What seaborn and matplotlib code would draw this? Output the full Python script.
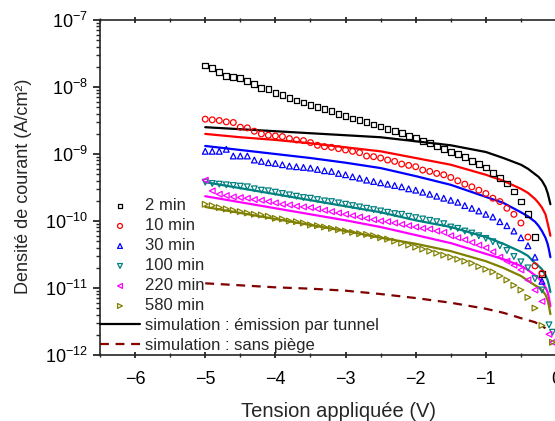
import numpy as np
import matplotlib
matplotlib.use("Agg")
import matplotlib.pyplot as plt
import seaborn as sns
from matplotlib.ticker import LogLocator, MultipleLocator, NullFormatter

nan = np.nan

# applied voltage of the measured points (V)
voltage = [-5.0, -4.9, -4.8, -4.7, -4.6, -4.5, -4.4, -4.3, -4.2, -4.1,
           -4.0, -3.9, -3.8, -3.7, -3.6, -3.5, -3.4, -3.3, -3.2, -3.1,
           -3.0, -2.9, -2.8, -2.7, -2.6, -2.5, -2.4, -2.3, -2.2, -2.1,
           -2.0, -1.9, -1.8, -1.7, -1.6, -1.5, -1.4, -1.3, -1.2, -1.1,
           -1.0, -0.9, -0.8, -0.7, -0.6, -0.5, -0.4, -0.3, -0.2, -0.1, -0.05]

# log10 of measured current density (A/cm2)
log_2min = [-7.68, -7.72, -7.78, -7.84, -7.85, -7.87, -7.91, -7.96, -8.02, -8.03,
            -8.09, -8.12, -8.16, -8.20, -8.23, -8.27, -8.30, -8.33, -8.36, -8.40,
            -8.43, -8.47, -8.49, -8.52, -8.56, -8.59, -8.63, -8.66, -8.69, -8.73,
            -8.76, -8.81, -8.84, -8.88, -8.92, -8.97, -9.00, -9.05, -9.10, -9.15,
            -9.20, -9.28, -9.36, -9.44, -9.56, -9.71, -9.90, -10.24, -10.79, nan, nan]
log_10min = [-8.48, -8.49, -8.50, -8.52, -8.53, -8.60, -8.61, -8.66, -8.70, -8.72,
             -8.73, -8.74, -8.77, -8.79, -8.80, -8.83, -8.87, -8.89, -8.90, -8.92,
             -8.94, -8.96, -8.98, -9.03, -9.04, -9.06, -9.09, -9.11, -9.15, -9.17,
             -9.19, -9.24, -9.26, -9.29, -9.31, -9.35, -9.40, -9.45, -9.49, -9.54,
             -9.59, -9.66, -9.71, -9.81, -9.90, -10.03, -10.24, -10.67, -10.78, nan, nan]
log_30min = [-8.96, -8.96, -8.96, -8.93, -9.03, -9.03, -9.03, -9.09, -9.11, -9.13,
             -9.14, -9.16, -9.18, -9.19, -9.20, -9.21, -9.23, -9.25, -9.26, -9.29,
             -9.31, -9.34, -9.36, -9.39, -9.41, -9.43, -9.45, -9.47, -9.49, -9.52,
             -9.54, -9.57, -9.60, -9.63, -9.66, -9.69, -9.72, -9.77, -9.81, -9.85,
             -9.90, -9.94, -10.01, -10.07, -10.15, -10.25, -10.37, -10.54, -10.90, nan, nan]
log_100min = [-9.42, -9.44, -9.45, -9.46, -9.47, -9.48, -9.49, -9.52, -9.54, -9.55,
              -9.57, -9.59, -9.61, -9.63, -9.65, -9.66, -9.68, -9.70, -9.71, -9.73,
              -9.75, -9.77, -9.79, -9.81, -9.83, -9.85, -9.87, -9.89, -9.90, -9.93,
              -9.95, -9.97, -9.99, -10.01, -10.04, -10.09, -10.11, -10.15, -10.18, -10.22,
              -10.26, -10.31, -10.37, -10.44, -10.53, -10.61, -10.70, -10.86, -11.03, -11.55, -11.66]
log_220min = [-9.39, -9.55, -9.60, -9.62, -9.64, -9.65, -9.66, -9.68, -9.69, -9.71,
              -9.73, -9.75, -9.76, -9.78, -9.79, -9.80, -9.82, -9.84, -9.86, -9.88,
              -9.90, -9.92, -9.94, -9.96, -9.98, -10.00, -10.01, -10.03, -10.05, -10.07,
              -10.09, -10.11, -10.12, -10.15, -10.17, -10.22, -10.25, -10.28, -10.32, -10.36,
              -10.40, -10.46, -10.54, -10.60, -10.66, -10.73, -10.88, -11.03, -11.20, -11.69, -11.81]
log_580min = [-9.75, -9.77, -9.80, -9.82, -9.84, -9.86, -9.88, -9.90, -9.91, -9.93,
              -9.96, -9.97, -10.00, -10.01, -10.03, -10.06, -10.07, -10.09, -10.11, -10.13,
              -10.15, -10.17, -10.19, -10.20, -10.22, -10.25, -10.27, -10.30, -10.33, -10.36,
              -10.39, -10.42, -10.45, -10.48, -10.51, -10.54, -10.57, -10.60, -10.63, -10.68,
              -10.72, -10.76, -10.82, -10.88, -10.96, -11.03, -11.14, -11.30, -11.56, nan, -11.81]

# simulation : émission par tunnel (log10 J)
sim_voltage = [-5.0, -4.5, -4.0, -3.5, -3.0, -2.5, -2.0, -1.5, -1.0, -0.75,
               -0.5, -0.4, -0.3, -0.25, -0.2, -0.15, -0.12, -0.1, -0.08]
sim_2min = [-8.60, -8.63, -8.66, -8.69, -8.72, -8.75, -8.81, -8.87, -8.97, -9.06,
            -9.16, -9.22, -9.30, -9.34, -9.40, -9.49, -9.58, -9.66, -9.75]
sim_10min = [-8.70, -8.75, -8.79, -8.84, -8.90, -8.96, -9.06, -9.16, -9.31, -9.40,
             -9.52, -9.58, -9.67, -9.73, -9.80, -9.90, -10.03, -10.12, -10.22]
sim_30min = [-8.88, -8.94, -9.00, -9.06, -9.13, -9.21, -9.33, -9.46, -9.64, -9.73,
             -9.87, -9.93, -10.01, -10.07, -10.15, -10.25, -10.34, -10.43, -10.54]
sim_100min = [-9.42, -9.51, -9.60, -9.69, -9.78, -9.87, -9.99, -10.09, -10.24, -10.34,
              -10.46, -10.52, -10.63, -10.67, -10.72, -10.81, -10.88, -10.96, -11.06]
sim_220min = [-9.63, -9.72, -9.81, -9.90, -9.99, -10.09, -10.21, -10.33, -10.49, -10.57,
              -10.67, -10.73, -10.81, -10.85, -10.91, -10.99, -11.06, -11.15, -11.27]
sim_580min = [-9.79, -9.88, -9.97, -10.06, -10.15, -10.25, -10.34, -10.45, -10.60, -10.70,
              -10.82, -10.89, -10.96, -10.99, -11.03, -11.10, -11.18, -11.27, -11.39]

# simulation : sans piège
notrap_voltage = [-5.0, -4.5, -4.0, -3.5, -3.0, -2.5, -2.0, -1.5, -1.0, -0.75,
                  -0.5, -0.4, -0.3, -0.25, -0.2, -0.15]
notrap = [-10.93, -10.96, -10.99, -11.01, -11.04, -11.09, -11.15, -11.22, -11.31, -11.37,
          -11.45, -11.48, -11.51, -11.54, -11.57, -11.60]

labels = ["2 min", "10 min", "30 min", "100 min", "220 min", "580 min"]
colors = ["#000000", "#ff0000", "#0000ff", "#008080", "#ff00ff", "#808000"]
markers = ["s", "o", "^", "v", "<", ">"]
measured = [log_2min, log_10min, log_30min, log_100min, log_220min, log_580min]
simulated = [sim_2min, sim_10min, sim_30min, sim_100min, sim_220min, sim_580min]

sns.set_style("ticks")
plt.rcParams["font.family"] = ["Liberation Sans", "DejaVu Sans"]
plt.rcParams["mathtext.fontset"] = "custom"
plt.rcParams["mathtext.rm"] = "Liberation Sans"
plt.rcParams["mathtext.it"] = "Liberation Sans:italic"
plt.rcParams["axes.unicode_minus"] = True

fig = plt.figure(figsize=(5.55, 4.21), dpi=100)
ax = fig.add_axes([100 / 555, 1 - 355 / 421, 456 / 555, 335 / 421])
ax.set_yscale("log")

for lab, col, mk, vals in zip(labels, colors, markers, measured):
    sns.scatterplot(x=voltage, y=10 ** np.array(vals), marker=mk, s=17,
                    color=col, facecolors="none", edgecolors=col,
                    linewidths=0.9, label=lab, ax=ax, zorder=3)

for i, (col, vals) in enumerate(zip(colors, simulated)):
    sns.lineplot(x=sim_voltage, y=10 ** np.array(vals), color=col, lw=1.6,
                 label="simulation : émission par tunnel" if i == 0 else None,
                 ax=ax, zorder=2)

sns.lineplot(x=notrap_voltage, y=10 ** np.array(notrap), color="#800000", lw=1.6,
             dashes=(4, 3), label="simulation : sans piège", ax=ax, zorder=2)

ax.set_xlim(-6.5, 0)
ax.set_ylim(1e-12, 1e-7)
ax.xaxis.set_major_locator(MultipleLocator(1))
ax.xaxis.set_minor_locator(MultipleLocator(0.5))
ax.yaxis.set_major_locator(LogLocator(base=10, numticks=10))
ax.yaxis.set_minor_locator(LogLocator(base=10, subs=np.arange(2, 10), numticks=20))
ax.yaxis.set_minor_formatter(NullFormatter())

for side in ["left", "bottom", "top"]:
    ax.spines[side].set_linewidth(1.2)
ax.spines["right"].set_visible(False)

ax.tick_params(axis="both", which="major", direction="out", length=5, width=1.1,
               labelsize=13, colors="black")
ax.tick_params(axis="both", which="minor", direction="out", length=3, width=1.0)
ax.tick_params(axis="x", which="both", top=True)
ax.tick_params(axis="x", which="both", direction="inout")
ax.tick_params(axis="x", which="major", pad=9)

ax.set_xlabel("Tension appliquée (V)", fontsize=14.5, labelpad=8)
ax.xaxis.set_label_coords(0.522, -0.14)
ax.set_ylabel("Densité de courant (A/cm²)", fontsize=13)
ax.yaxis.set_label_coords(-0.15, 0.505)

ax.legend(loc="lower left", bbox_to_anchor=(0.0, 0.005), frameon=False,
          fontsize=12, handlelength=2.4, handletextpad=0.3, labelspacing=0.3,
          borderpad=0, borderaxespad=0, scatterpoints=1, markerscale=0.85)

fig.savefig("out.png", dpi=100)
